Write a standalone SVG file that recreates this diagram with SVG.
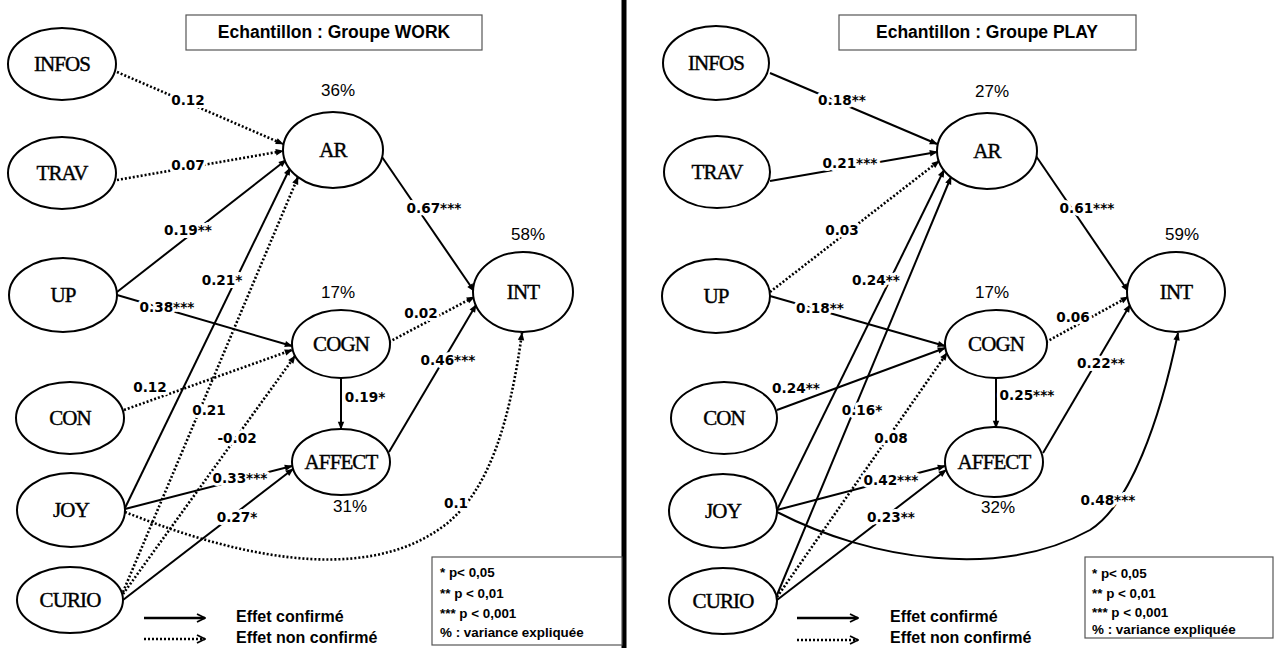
<svg xmlns="http://www.w3.org/2000/svg" width="1281" height="648" viewBox="0 0 1281 648">
<style>
.nd{fill:#fff;stroke:#000;stroke-width:2}
.nt{font-family:"Liberation Serif",serif;font-size:21px;letter-spacing:-0.9px;text-anchor:middle;fill:#000;stroke:#000;stroke-width:0.4}
.s{fill:none;stroke:#000;stroke-width:2;marker-end:url(#ah)}
.d{fill:none;stroke:#000;stroke-width:2.6;stroke-dasharray:2 2;marker-end:url(#ah)}
.lb{font-family:"DejaVu Sans",sans-serif;font-weight:bold;font-size:13.6px;text-anchor:middle;fill:#000;stroke:#fff;stroke-width:6;paint-order:stroke;stroke-linejoin:round}
.pc{font-family:"Liberation Sans",sans-serif;font-size:17px;text-anchor:middle;fill:#000}
.tt{font-family:"Liberation Sans",sans-serif;font-weight:bold;font-size:17.5px;text-anchor:middle;fill:#000}
.box{fill:#fff;stroke:#555;stroke-width:1.2}
.lg{font-family:"Liberation Sans",sans-serif;font-weight:bold;font-size:13.4px;fill:#000}
.lt{font-family:"Liberation Sans",sans-serif;font-weight:bold;font-size:16px;fill:#000}
</style>
<defs>
<marker id="ah" viewBox="0 0 10 10" refX="9" refY="5" markerWidth="9" markerHeight="8" markerUnits="userSpaceOnUse" orient="auto"><path d="M0,1 L10,5 L0,9 z" fill="#000"/></marker>
<marker id="ch" viewBox="0 0 10 10" refX="9" refY="5" markerWidth="10" markerHeight="10" markerUnits="userSpaceOnUse" orient="auto"><path d="M1,1 L9,5 L1,9" fill="none" stroke="#000" stroke-width="1.8"/></marker>
</defs>
<rect width="1281" height="648" fill="#fff"/>
<line x1="624" y1="0" x2="624" y2="648" stroke="#000" stroke-width="5"/>
<g id="title-work"><rect class="box" x="186" y="15" width="296" height="35"/><text class="tt" x="334" y="38">Echantillon : Groupe WORK</text></g>
<g id="title-play"><rect class="box" x="839" y="15" width="297" height="35"/><text class="tt" x="987" y="38">Echantillon : Groupe PLAY</text></g>
<g id="connectors">
<path class="d" d="M117,72 L283,144"/>
<path class="d" d="M117,180 L283,151"/>
<path class="s" d="M117,292 L286,160"/>
<path class="s" d="M117,295 L292,346"/>
<path class="d" d="M124,410 L292,350"/>
<path class="s" d="M125,508 L290,168"/>
<path class="d" d="M123,592 L298,177"/>
<path class="d" d="M123,594 L295,356"/>
<path class="s" d="M125,509 L292,466"/>
<path class="s" d="M123,600 L293,469"/>
<path class="s" d="M382,157 L474,291"/>
<path class="d" d="M389,342 L474,297"/>
<path class="s" d="M389,452 L476,305"/>
<path class="d" d="M125,512 C220,550 360,590 445,525 C490,490 510,420 522,333"/>
<path class="s" d="M341,378 L341,429"/>
<path class="s" d="M770,73 L937,144"/>
<path class="s" d="M770,181 L937,152"/>
<path class="d" d="M770,292 L939,161"/>
<path class="s" d="M770,296 L945,346"/>
<path class="s" d="M777,410 L945,348"/>
<path class="s" d="M777,510 L944,170"/>
<path class="s" d="M777,595 L951,177"/>
<path class="d" d="M777,597 L947,353"/>
<path class="s" d="M777,510 L945,466"/>
<path class="s" d="M777,600 L946,470"/>
<path class="s" d="M1036,156 L1128,291"/>
<path class="d" d="M1046,342 L1128,297"/>
<path class="s" d="M1043,453 L1130,305"/>
<path class="s" d="M777,512 C870,560 1000,580 1090,530 C1130,505 1160,420 1178,333"/>
<path class="s" d="M996,378 L996,428"/>
</g>
<g id="labels">
<text class="lb" x="188" y="105">0.12</text>
<text class="lb" x="188" y="170">0.07</text>
<text class="lb" x="188" y="235">0.19**</text>
<text class="lb" x="167" y="312">0.38***</text>
<text class="lb" x="150" y="392">0.12</text>
<text class="lb" x="222" y="285">0.21*</text>
<text class="lb" x="209" y="415">0.21</text>
<text class="lb" x="237" y="443">-0.02</text>
<text class="lb" x="240" y="483">0.33***</text>
<text class="lb" x="237" y="522">0.27*</text>
<text class="lb" x="434" y="213">0.67***</text>
<text class="lb" x="421" y="318">0.02</text>
<text class="lb" x="365" y="402">0.19*</text>
<text class="lb" x="448" y="365">0.46***</text>
<text class="lb" x="456" y="508">0.1</text>
<text class="lb" x="842" y="105">0.18**</text>
<text class="lb" x="850" y="168">0.21***</text>
<text class="lb" x="842" y="235">0.03</text>
<text class="lb" x="820" y="313">0.18**</text>
<text class="lb" x="796" y="393">0.24**</text>
<text class="lb" x="876" y="285">0.24**</text>
<text class="lb" x="862" y="415">0.16*</text>
<text class="lb" x="891" y="443">0.08</text>
<text class="lb" x="891" y="485">0.42***</text>
<text class="lb" x="891" y="522">0.23**</text>
<text class="lb" x="1087" y="213">0.61***</text>
<text class="lb" x="1073" y="322">0.06</text>
<text class="lb" x="1027" y="400">0.25***</text>
<text class="lb" x="1101" y="368">0.22**</text>
<text class="lb" x="1108" y="505">0.48***</text>
</g>
<g id="w-infos"><ellipse class="nd" cx="62" cy="64" rx="54" ry="36"/><text class="nt" x="62" y="71">INFOS</text></g>
<g id="w-trav"><ellipse class="nd" cx="62" cy="173" rx="54" ry="36"/><text class="nt" x="62" y="180">TRAV</text></g>
<g id="w-up"><ellipse class="nd" cx="63" cy="295" rx="54" ry="37"/><text class="nt" x="63" y="302">UP</text></g>
<g id="w-con"><ellipse class="nd" cx="70" cy="418" rx="54" ry="36"/><text class="nt" x="70" y="425">CON</text></g>
<g id="w-joy"><ellipse class="nd" cx="71" cy="510" rx="54" ry="37"/><text class="nt" x="71" y="517">JOY</text></g>
<g id="w-curio"><ellipse class="nd" cx="70" cy="600" rx="53" ry="33"/><text class="nt" x="70" y="607">CURIO</text></g>
<g id="w-ar"><ellipse class="nd" cx="333" cy="150" rx="50" ry="38"/><text class="nt" x="333" y="157">AR</text><text class="pc" x="338" y="96">36%</text></g>
<g id="w-int"><ellipse class="nd" cx="523" cy="292" rx="50" ry="40"/><text class="nt" x="523" y="299">INT</text><text class="pc" x="528" y="240">58%</text></g>
<g id="w-cogn"><ellipse class="nd" cx="341" cy="344" rx="49" ry="34"/><text class="nt" x="341" y="351">COGN</text><text class="pc" x="338" y="298">17%</text></g>
<g id="w-affect"><ellipse class="nd" cx="341" cy="462" rx="49" ry="33"/><text class="nt" x="341" y="469">AFFECT</text><text class="pc" x="350" y="512">31%</text></g>
<g id="p-infos"><ellipse class="nd" cx="716" cy="63" rx="53" ry="37"/><text class="nt" x="716" y="70">INFOS</text></g>
<g id="p-trav"><ellipse class="nd" cx="717" cy="172" rx="53" ry="36"/><text class="nt" x="717" y="179">TRAV</text></g>
<g id="p-up"><ellipse class="nd" cx="716" cy="296" rx="54" ry="37"/><text class="nt" x="716" y="303">UP</text></g>
<g id="p-con"><ellipse class="nd" cx="724" cy="418" rx="53" ry="36"/><text class="nt" x="724" y="425">CON</text></g>
<g id="p-joy"><ellipse class="nd" cx="723" cy="511" rx="54" ry="37"/><text class="nt" x="723" y="518">JOY</text></g>
<g id="p-curio"><ellipse class="nd" cx="723" cy="601" rx="54" ry="33"/><text class="nt" x="723" y="608">CURIO</text></g>
<g id="p-ar"><ellipse class="nd" cx="987" cy="151" rx="50" ry="38"/><text class="nt" x="987" y="158">AR</text><text class="pc" x="992" y="97">27%</text></g>
<g id="p-int"><ellipse class="nd" cx="1176" cy="292" rx="49" ry="40"/><text class="nt" x="1176" y="299">INT</text><text class="pc" x="1182" y="240">59%</text></g>
<g id="p-cogn"><ellipse class="nd" cx="996" cy="344" rx="51" ry="34"/><text class="nt" x="996" y="351">COGN</text><text class="pc" x="992" y="298">17%</text></g>
<g id="p-affect"><ellipse class="nd" cx="994" cy="462" rx="49" ry="35"/><text class="nt" x="994" y="469">AFFECT</text><text class="pc" x="998" y="513">32%</text></g>
<g id="legend-work">
<line x1="144" y1="618" x2="205" y2="618" stroke="#000" stroke-width="2.5" marker-end="url(#ch)"/>
<line x1="144" y1="639" x2="205" y2="639" stroke="#000" stroke-width="2.5" stroke-dasharray="2 2" marker-end="url(#ch)"/>
<text class="lt" x="236" y="622">Effet confirmé</text>
<text class="lt" x="236" y="643">Effet non confirmé</text>
<rect class="box" x="432" y="557" width="190" height="88"/>
<text class="lg" x="440" y="577">* p&lt; 0,05</text>
<text class="lg" x="440" y="598">** p &lt; 0,01</text>
<text class="lg" x="440" y="618">*** p &lt; 0,001</text>
<text class="lg" x="440" y="637">% : variance expliquée</text>
</g>
<g id="legend-play">
<line x1="797" y1="618" x2="858" y2="618" stroke="#000" stroke-width="2.5" marker-end="url(#ch)"/>
<line x1="797" y1="640" x2="858" y2="640" stroke="#000" stroke-width="2.5" stroke-dasharray="2 2" marker-end="url(#ch)"/>
<text class="lt" x="890" y="622">Effet confirmé</text>
<text class="lt" x="890" y="643">Effet non confirmé</text>
<rect class="box" x="1085" y="557" width="188" height="81"/>
<text class="lg" x="1092" y="578">* p&lt; 0,05</text>
<text class="lg" x="1092" y="598">** p &lt; 0,01</text>
<text class="lg" x="1092" y="617">*** p &lt; 0,001</text>
<text class="lg" x="1092" y="634">% : variance expliquée</text>
</g>
</svg>
